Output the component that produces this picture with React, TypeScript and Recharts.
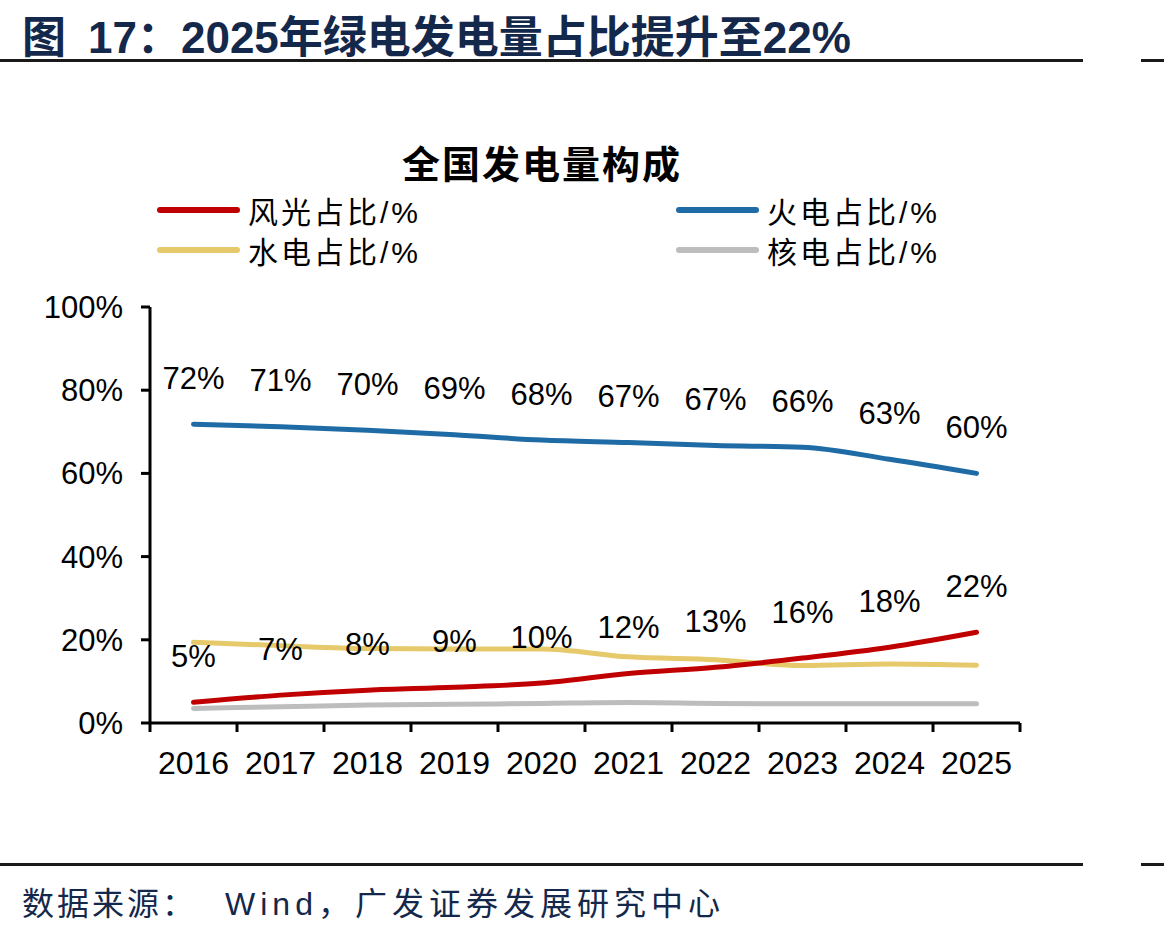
import React from 'react'
import { LineChart, Line, XAxis, YAxis, LabelList } from 'recharts'

const years = ['2016', '2017', '2018', '2019', '2020', '2021', '2022', '2023', '2024', '2025']
const windSolar = [5.0, 6.7, 7.9, 8.6, 9.6, 11.9, 13.4, 15.6, 18.2, 21.8]
const thermal = [71.8, 71.2, 70.4, 69.3, 68.0, 67.4, 66.7, 66.3, 63.4, 60.0]
const hydro = [19.4, 18.6, 17.9, 17.8, 17.8, 15.9, 15.2, 13.8, 14.2, 13.9]
const nuclear = [3.5, 3.9, 4.3, 4.5, 4.7, 4.9, 4.7, 4.6, 4.6, 4.6]
const yTicks = [0, 20, 40, 60, 80, 100]

const series = [
  { key: 'wind', name: '风光占比/%', color: '#C00000' },
  { key: 'thermal', name: '火电占比/%', color: '#1F6BA6' },
  { key: 'hydro', name: '水电占比/%', color: '#E6C96B' },
  { key: 'nuclear', name: '核电占比/%', color: '#BDBDBD' },
]

const data = years.map((year, i) => ({
  idx: i,
  year,
  wind: windSolar[i],
  thermal: thermal[i],
  hydro: hydro[i],
  nuclear: nuclear[i],
}))

// category edges carry the tick marks, centres carry the year labels
const edgeTicks = years.map((_, i) => i - 0.5).concat(years.length - 0.5)
const midTicks = years.map((_, i) => i)

const FONT = '"Liberation Sans", Arial, "Noto Sans CJK SC", sans-serif'
const NAVY = '#14284B'

const renderLabel = (props: any) => {
  const { x, y, value } = props
  return (
    <text x={x} y={y - 46} textAnchor="middle" dominantBaseline="central" fontSize={31} fill="#000" fontFamily={FONT}>
      {`${Math.round(value)}%`}
    </text>
  )
}

const Rule = ({ top }: { top: number }) => (
  <>
    <div style={{ position: 'absolute', left: 0, top, width: 1083, height: 3, background: '#1a1a1a' }} />
    <div style={{ position: 'absolute', left: 1141, top, width: 23, height: 3, background: '#1a1a1a' }} />
  </>
)

export default function App() {
  return (
    <div style={{ position: 'absolute', left: 0, top: 0, width: 1164, height: 934, background: '#fff', fontFamily: FONT, overflow: 'hidden' }}>
      <div style={{ position: 'absolute', left: 22, top: 2, fontSize: 44, fontWeight: 700, color: NAVY, whiteSpace: 'nowrap' }}>
        <span style={{ marginRight: 22 }}>图</span>17：2025年绿电发电量占比提升至22%
      </div>
      <Rule top={59} />

      <div style={{ position: 'absolute', left: 0, width: 1084, top: 134, textAlign: 'center', fontSize: 38, fontWeight: 700, letterSpacing: 2, color: '#000' }}>
        全国发电量构成
      </div>

      <div style={{ position: 'absolute', left: 157, top: 192, width: 860, display: 'grid', gridTemplateColumns: '519px 341px', rowGap: 4 }}>
        {series.map(s => (
          <div key={s.key} style={{ display: 'flex', alignItems: 'center', height: 36 }}>
            <div style={{ width: 83, height: 6, borderRadius: 3, background: s.color, marginRight: 8 }} />
            <span style={{ fontSize: 30, letterSpacing: 3, color: '#000' }}>{s.name}</span>
          </div>
        ))}
      </div>

      <div style={{ position: 'absolute', left: 0, top: 0 }}>
        <LineChart width={1164} height={934} data={data} margin={{ top: 307, right: 144, bottom: 161, left: 40 }}>
          <XAxis
            type="number"
            dataKey="idx"
            domain={[-0.5, years.length - 0.5]}
            ticks={edgeTicks}
            tickFormatter={() => ''}
            height={10}
            tickSize={9}
            axisLine={{ stroke: '#000', strokeWidth: 3 }}
            tickLine={{ stroke: '#000', strokeWidth: 3 }}
          />
          <XAxis
            xAxisId="yr"
            type="number"
            dataKey="idx"
            domain={[-0.5, years.length - 0.5]}
            ticks={midTicks}
            tickFormatter={(v: number) => years[v] ?? ''}
            height={40}
            axisLine={false}
            tickLine={false}
            tickMargin={12}
            tick={{ fill: '#000', fontSize: 32, fontFamily: FONT }}
            interval={0}
          />
          <YAxis
            domain={[0, 100]}
            ticks={yTicks}
            tickFormatter={(v: number) => `${v}%`}
            width={110}
            tickSize={9}
            tickMargin={18}
            axisLine={{ stroke: '#000', strokeWidth: 3 }}
            tickLine={{ stroke: '#000', strokeWidth: 3 }}
            tick={{ fill: '#000', fontSize: 31, fontFamily: FONT }}
            interval={0}
          />
          <Line type="monotone" dataKey="nuclear" xAxisId="yr" stroke={series[3].color} strokeWidth={5} strokeLinecap="round" dot={false} isAnimationActive={false} />
          <Line type="monotone" dataKey="hydro" stroke={series[2].color} strokeWidth={5} strokeLinecap="round" dot={false} isAnimationActive={false} />
          <Line type="monotone" dataKey="thermal" stroke={series[1].color} strokeWidth={5} strokeLinecap="round" dot={false} isAnimationActive={false}>
            <LabelList dataKey="thermal" content={renderLabel} />
          </Line>
          <Line type="monotone" dataKey="wind" stroke={series[0].color} strokeWidth={5} strokeLinecap="round" dot={false} isAnimationActive={false}>
            <LabelList dataKey="wind" content={renderLabel} />
          </Line>
        </LineChart>
      </div>

      <Rule top={863} />
      <div style={{ position: 'absolute', left: 22, top: 878, fontSize: 32, color: NAVY, whiteSpace: 'nowrap', letterSpacing: 3 }}>
        数据来源：<span style={{ marginLeft: 28, letterSpacing: 5 }}>Wind，广发证券发展研究中心</span>
      </div>
    </div>
  )
}
